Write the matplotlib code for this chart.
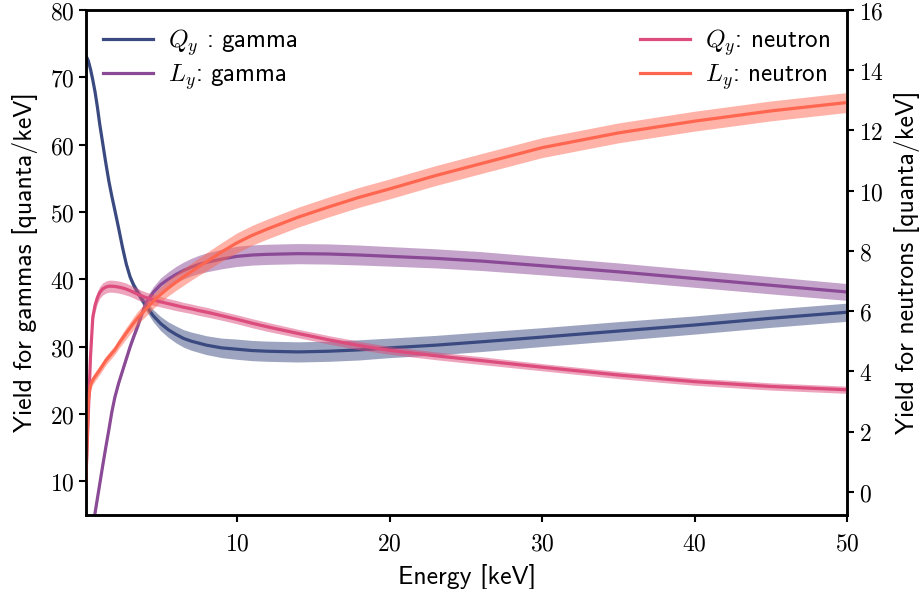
import numpy as np
import matplotlib.pyplot as plt
from matplotlib.ticker import FuncFormatter

plt.rcParams['mathtext.fontset'] = 'cm'

# energy grid [keV]
energy = [0.1, 0.25, 0.4, 0.55, 0.7, 0.85, 1, 1.2, 1.4, 1.6, 1.8, 2, 2.25, 2.5, 2.75,
          3, 3.25, 3.5, 3.75, 4, 4.5, 5, 5.5, 6, 6.5, 7, 7.5, 8, 9, 10,
          11, 12, 14, 16, 18, 20, 23, 26, 30, 35, 40, 45, 50]

# gamma yields (left axis)
qy_gamma = [73.2, 72.5, 71.2, 69.6, 67.8, 65.6, 63.1, 60.2, 57.3, 54.6, 52.3, 50.2, 47.5, 44.7, 42.2,
            40.3, 39.0, 38.0, 37.1, 36.2, 34.6, 33.4, 32.5, 31.8, 31.2, 30.8, 30.5, 30.2, 29.8, 29.6,
            29.4, 29.3, 29.2, 29.3, 29.5, 29.8, 30.2, 30.7, 31.4, 32.3, 33.2, 34.2, 35.1]
qy_gamma_err = [0.3, 0.3, 0.3, 0.3, 0.3, 0.3, 0.3, 0.3, 0.3, 0.3, 0.3, 0.35, 0.38, 0.4, 0.45,
                0.5, 0.55, 0.6, 0.68, 0.75, 0.9, 1.05, 1.15, 1.25, 1.3, 1.35, 1.38, 1.4, 1.45, 1.5,
                1.5, 1.5, 1.5, 1.5, 1.5, 1.45, 1.45, 1.45, 1.4, 1.4, 1.35, 1.35, 1.35]
ly_gamma = [-3.0, -1.0, 1.0, 3.2, 5.3, 7.4, 9.5, 12.3, 15.0, 17.6, 20.3, 22.5, 24.6, 26.4, 28.2,
            30.0, 31.6, 33.1, 34.8, 36.3, 38.0, 39.2, 40.0, 40.7, 41.3, 41.8, 42.2, 42.5, 43.0, 43.4,
            43.6, 43.7, 43.8, 43.75, 43.6, 43.4, 43.1, 42.7, 42.0, 41.1, 40.1, 39.1, 38.1]
ly_gamma_err = [0.3, 0.3, 0.3, 0.3, 0.3, 0.3, 0.3, 0.3, 0.3, 0.3, 0.3, 0.3, 0.32, 0.35, 0.4,
                0.45, 0.5, 0.55, 0.62, 0.7, 0.85, 1.0, 1.1, 1.2, 1.25, 1.3, 1.35, 1.4, 1.45, 1.5,
                1.5, 1.5, 1.5, 1.5, 1.48, 1.45, 1.42, 1.4, 1.35, 1.32, 1.3, 1.28, 1.25]

# neutron yields (right axis)
qy_neutron = [0.5, 2.5, 4.5, 5.8, 6.2, 6.45, 6.62, 6.74, 6.8, 6.83, 6.83, 6.82, 6.8, 6.77, 6.73,
              6.68, 6.62, 6.56, 6.51, 6.46, 6.38, 6.31, 6.25, 6.19, 6.13, 6.08, 6.02, 5.97, 5.85, 5.73,
              5.6, 5.48, 5.26, 5.05, 4.86, 4.70, 4.52, 4.36, 4.14, 3.88, 3.66, 3.50, 3.39]
qy_neutron_err = [0.2, 0.2, 0.2, 0.2, 0.2, 0.2, 0.2, 0.2, 0.2, 0.2, 0.2, 0.2, 0.2, 0.2, 0.2,
                  0.19, 0.19, 0.19, 0.18, 0.18, 0.18, 0.17, 0.17, 0.17, 0.16, 0.16, 0.16, 0.16, 0.15, 0.15,
                  0.15, 0.15, 0.14, 0.14, 0.14, 0.13, 0.13, 0.13, 0.12, 0.12, 0.12, 0.12, 0.12]
ly_neutron = [0.3, 3.0, 3.55, 3.72, 3.83, 3.94, 4.05, 4.2, 4.36, 4.48, 4.6, 4.72, 4.92, 5.1, 5.28,
              5.45, 5.62, 5.78, 5.92, 6.05, 6.32, 6.56, 6.77, 6.96, 7.14, 7.31, 7.48, 7.64, 7.97, 8.27,
              8.52, 8.73, 9.12, 9.46, 9.78, 10.06, 10.5, 10.9, 11.43, 11.92, 12.31, 12.65, 12.93]
ly_neutron_err = [0.15, 0.15, 0.15, 0.15, 0.15, 0.15, 0.15, 0.15, 0.15, 0.15, 0.15, 0.15, 0.16, 0.18, 0.19,
                  0.2, 0.21, 0.22, 0.22, 0.23, 0.24, 0.25, 0.26, 0.27, 0.28, 0.28, 0.29, 0.3, 0.31, 0.33,
                  0.33, 0.33, 0.33, 0.33, 0.33, 0.33, 0.33, 0.33, 0.33, 0.33, 0.33, 0.33, 0.33]

c_qg = '#3a4a80'
c_lg = '#8a4a96'
c_qn = '#dc4c7c'
c_ln = '#ff6650'

E = np.array(energy)

def band(ax, y, err, color, label):
    y = np.array(y)
    err = np.array(err)
    ax.fill_between(E, y - err, y + err, color=color, alpha=0.5, lw=0)
    ax.plot(E, y, color=color, lw=2.3, label=label)

fig, ax = plt.subplots(figsize=(9.24, 5.89), dpi=100)
fig.subplots_adjust(left=0.093, right=0.917, top=0.983, bottom=0.126)
ax2 = ax.twinx()

band(ax, qy_gamma, qy_gamma_err, c_qg, r'$Q_y$ : gamma')
band(ax, ly_gamma, ly_gamma_err, c_lg, r'$L_y$: gamma')
band(ax2, qy_neutron, qy_neutron_err, c_qn, r'$Q_y$: neutron')
band(ax2, ly_neutron, ly_neutron_err, c_ln, r'$L_y$: neutron')

ax.set_xlim(0.1, 50)
ax.set_ylim(5, 80)
ax2.set_ylim(-0.76, 16)
ax.set_xticks([10, 20, 30, 40, 50])
ax.set_yticks([10, 20, 30, 40, 50, 60, 70, 80])
ax2.set_yticks([0, 2, 4, 6, 8, 10, 12, 14, 16])

fmt = FuncFormatter(lambda v, p: f'${v:g}$')
for a in (ax, ax2):
    a.xaxis.set_major_formatter(fmt)
    a.yaxis.set_major_formatter(fmt)
    a.tick_params(labelsize=17, width=1.5, length=5)
    for s in a.spines.values():
        s.set_linewidth(1.8)
ax.tick_params(axis='x', pad=7)

lab = dict(fontsize=18.5, family='cmss10')
ax.set_xlabel('Energy [keV]', labelpad=6, **lab)
ax.set_ylabel('Yield for gammas [quanta/keV]', labelpad=8, **lab)
ax2.set_ylabel('Yield for neutrons [quanta/keV]', labelpad=7, **lab)

leg_font = {'family': 'cmss10', 'size': 18}
ax.legend(loc='upper left', frameon=False, prop=leg_font, handlelength=2.0,
          handletextpad=0.6, labelspacing=0.15, borderaxespad=0.3)
ax2.legend(loc='upper right', frameon=False, prop=leg_font, handlelength=2.0,
           handletextpad=0.6, labelspacing=0.15, borderaxespad=0.3)

fig.savefig('out.png', dpi=100)
